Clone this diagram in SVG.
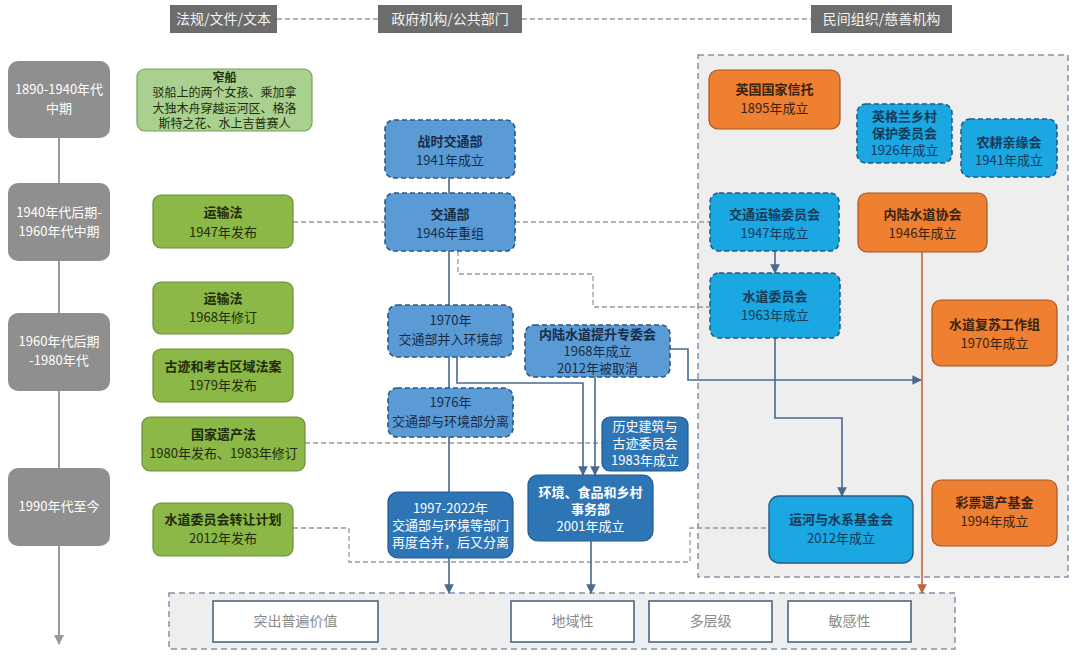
<svg xmlns="http://www.w3.org/2000/svg" width="1080" height="656" viewBox="0 0 1080 656">
<defs>
<style>
text{font-family:"Noto Sans CJK SC","Liberation Sans",sans-serif;font-size:13px;text-anchor:middle}
.b{font-weight:700}
.s{font-size:12px}
.hdr rect{fill:#6c6c6c}
.hdr text{fill:#f2f2f2;font-size:14px}
.tl rect{fill:#8f8f8f}
.tl text{fill:#ffffff}
.gr rect{fill:#8cb847;stroke:#6d8f36;stroke-width:1.2}
.gr text{fill:#1f2b0c}
.gl rect{fill:#a9d08e;stroke:#77a05a;stroke-width:1.2}
.gv rect{fill:#5b9bd5;stroke:#2d5782;stroke-width:1.6;stroke-dasharray:5 3}
.gv text{fill:#182c48}
.ds rect{fill:#2e75b6;stroke:#1f5a93;stroke-width:1.2}
.ds text{fill:#ffffff}
.lb rect{fill:#1aa7e2;stroke:#235a85;stroke-width:1.6;stroke-dasharray:5 3}
.lb text{fill:#163a58}
.ls rect{fill:#1aa7e2;stroke:#2a5a85;stroke-width:1.4}
.ls text{fill:#163a58}
.or rect{fill:#ef7f31;stroke:#a8551f;stroke-width:1.2}
.or text{fill:#3b2210}
.wb rect{fill:#ffffff;stroke:#4b6585;stroke-width:1.6}
.wb text{fill:#8a8a8a;font-size:14px}
.cont{fill:#eeeeee;stroke:#8193aa;stroke-width:1.5;stroke-dasharray:6 4}
.sl{fill:none;stroke:#4a6890;stroke-width:1.6}
.dl{fill:none;stroke:#999999;stroke-width:1.3;stroke-dasharray:5 3}
.ol{fill:none;stroke:#c0643a;stroke-width:1.6}
.tline{fill:none;stroke:#9a9a9a;stroke-width:2}
</style>
<marker id="ab" viewBox="0 0 10 10" refX="9" refY="5" markerWidth="6" markerHeight="6" orient="auto"><path d="M0,0 L10,5 L0,10 z" fill="#4a6890"/></marker>
<marker id="ao" viewBox="0 0 10 10" refX="9" refY="5" markerWidth="6" markerHeight="6" orient="auto"><path d="M0,0 L10,5 L0,10 z" fill="#c0643a"/></marker>
<marker id="ag" viewBox="0 0 10 10" refX="9" refY="5" markerWidth="5" markerHeight="5" orient="auto"><path d="M0,0 L10,5 L0,10 z" fill="#9a9a9a"/></marker>
</defs>
<rect width="1080" height="656" fill="#ffffff"/>

<!-- containers -->
<rect class="cont" x="698" y="55" width="370" height="522"/>
<rect class="cont" x="169" y="593" width="786" height="56"/>

<!-- connectors -->
<g id="connectors">
<line class="dl" x1="277" y1="19" x2="378" y2="19"/>
<line class="dl" x1="522" y1="19" x2="811" y2="19"/>
<line class="tline" x1="59" y1="138" x2="59" y2="183"/>
<line class="tline" x1="59" y1="261" x2="59" y2="313"/>
<line class="tline" x1="59" y1="391" x2="59" y2="468"/>
<line class="tline" x1="59" y1="546" x2="59" y2="644" marker-end="url(#ag)"/>
<line class="dl" x1="293" y1="222" x2="385" y2="222"/>
<line class="dl" x1="515" y1="222" x2="710" y2="222"/>
<polyline class="dl" points="458,251 458,274 593,274 593,307 710,307"/>
<line class="dl" x1="305" y1="443" x2="602" y2="443"/>
<polyline class="dl" points="293,528 349,528 349,562 690,562 690,528 769,528"/>
<line class="sl" x1="449" y1="178" x2="449" y2="193"/>
<line class="sl" x1="449" y1="251" x2="449" y2="305"/>
<line class="sl" x1="449" y1="357" x2="449" y2="388"/>
<line class="sl" x1="449" y1="437" x2="449" y2="492"/>
<line class="sl" x1="449" y1="558" x2="449" y2="593" marker-end="url(#ab)"/>
<polyline class="sl" points="457,357 457,383 583,383 583,475" marker-end="url(#ab)"/>
<line class="sl" x1="595" y1="377" x2="595" y2="475" marker-end="url(#ab)"/>
<line class="sl" x1="591" y1="541" x2="591" y2="593" marker-end="url(#ab)" stroke-width="1.2"/>
<polyline class="sl" points="670,349 688,349 688,380 921,380" marker-end="url(#ab)"/>
<line class="sl" x1="775" y1="251" x2="775" y2="273" marker-end="url(#ab)"/>
<polyline class="sl" points="775,338 775,418 842,418 842,496" marker-end="url(#ab)"/>
<line class="ol" x1="922" y1="252" x2="922" y2="593" marker-end="url(#ao)"/>
</g>

<!-- headers -->
<g id="h1" class="hdr"><rect x="170" y="5" width="107" height="28"/><text x="223.5" y="24">法规/文件/文本</text></g>
<g id="h2" class="hdr"><rect x="378" y="5" width="144" height="28"/><text x="450" y="24">政府机构/公共部门</text></g>
<g id="h3" class="hdr"><rect x="811" y="5" width="141" height="28"/><text x="881.5" y="24">民间组织/慈善机构</text></g>

<!-- timeline -->
<g id="t1" class="tl"><rect x="8" y="61" width="102" height="77" rx="10"/><text x="59" y="94">1890-1940年代</text><text x="59" y="113">中期</text></g>
<g id="t2" class="tl"><rect x="8" y="183" width="102" height="78" rx="10"/><text x="59" y="217">1940年代后期-</text><text x="59" y="236">1960年代中期</text></g>
<g id="t3" class="tl"><rect x="8" y="313" width="102" height="78" rx="10"/><text x="59" y="346">1960年代后期</text><text x="59" y="365">-1980年代</text></g>
<g id="t4" class="tl"><rect x="8" y="468" width="102" height="78" rx="10"/><text x="59" y="511">1990年代至今</text></g>

<!-- laws -->
<g id="g0" class="gr gl"><rect x="137" y="69" width="175" height="62" rx="8"/><text class="b s" x="224.5" y="81.5">窄船</text><text class="s" x="224.5" y="97">驳船上的两个女孩、乘加拿</text><text class="s" x="224.5" y="112.5">大独木舟穿越运河区、格洛</text><text class="s" x="224.5" y="128">斯特之花、水上吉普赛人</text></g>
<g id="g1" class="gr"><rect x="153" y="195" width="140" height="53" rx="8"/><text class="b" x="223" y="217">运输法</text><text x="223" y="237">1947年发布</text></g>
<g id="g2" class="gr"><rect x="153" y="282" width="140" height="52" rx="8"/><text class="b" x="223" y="303">运输法</text><text x="223" y="322">1968年修订</text></g>
<g id="g3" class="gr"><rect x="153" y="349" width="140" height="53" rx="8"/><text class="b" x="223" y="371">古迹和考古区域法案</text><text x="223" y="390">1979年发布</text></g>
<g id="g4" class="gr"><rect x="142" y="417" width="163" height="54" rx="8"/><text class="b" x="223.5" y="439">国家遗产法</text><text x="223.5" y="458">1980年发布、1983年修订</text></g>
<g id="g5" class="gr"><rect x="153" y="503" width="140" height="53" rx="8"/><text class="b" x="223" y="524">水道委员会转让计划</text><text x="223" y="543">2012年发布</text></g>

<!-- government -->
<g id="v1" class="gv"><rect x="385" y="120" width="130" height="58" rx="9"/><text class="b" x="450" y="146">战时交通部</text><text x="450" y="165">1941年成立</text></g>
<g id="v2" class="gv"><rect x="385" y="193" width="130" height="58" rx="9"/><text class="b" x="450" y="219">交通部</text><text x="450" y="238">1946年重组</text></g>
<g id="v3" class="gv"><rect x="388" y="305" width="125" height="52" rx="9"/><text x="450.5" y="325">1970年</text><text x="450.5" y="344">交通部并入环境部</text></g>
<g id="v4" class="gv"><rect x="388" y="388" width="125" height="49" rx="9"/><text x="450.5" y="407">1976年</text><text x="450.5" y="426">交通部与环境部分离</text></g>
<g id="v5" class="gv"><rect x="525" y="325" width="145" height="52" rx="9"/><text class="b" x="597.5" y="339">内陆水道提升专委会</text><text x="597.5" y="356">1968年成立</text><text x="597.5" y="373">2012年被取消</text></g>
<g id="v6" class="ds"><rect x="602" y="417" width="86" height="54" rx="8"/><text x="645" y="431">历史建筑与</text><text x="645" y="448">古迹委员会</text><text x="645" y="465">1983年成立</text></g>
<g id="v7" class="ds"><rect x="528" y="475" width="125" height="66" rx="10"/><text class="b" x="590.5" y="497">环境、食品和乡村</text><text class="b" x="590.5" y="514">事务部</text><text x="590.5" y="531">2001年成立</text></g>
<g id="v8" class="ds"><rect x="388" y="492" width="125" height="66" rx="10"/><text x="450.5" y="513">1997-2022年</text><text x="450.5" y="530">交通部与环境等部门</text><text x="450.5" y="547">再度合并，后又分离</text></g>

<!-- civil -->
<g id="c1" class="or"><rect x="709" y="70" width="131" height="59" rx="9"/><text class="b" x="774.5" y="94">英国国家信托</text><text x="774.5" y="113">1895年成立</text></g>
<g id="c2" class="lb"><rect x="857" y="104" width="95" height="59" rx="9"/><text class="b" x="904.5" y="121">英格兰乡村</text><text class="b" x="904.5" y="138">保护委员会</text><text x="904.5" y="155">1926年成立</text></g>
<g id="c3" class="lb"><rect x="961" y="119" width="96" height="58" rx="9"/><text class="b" x="1009" y="147">农耕亲缘会</text><text x="1009" y="165">1941年成立</text></g>
<g id="c4" class="lb"><rect x="710" y="193" width="129" height="58" rx="9"/><text class="b" x="774.5" y="219">交通运输委员会</text><text x="774.5" y="238">1947年成立</text></g>
<g id="c5" class="lb"><rect x="710" y="273" width="130" height="65" rx="9"/><text class="b" x="775" y="301">水道委员会</text><text x="775" y="320">1963年成立</text></g>
<g id="c6" class="or"><rect x="858" y="193" width="129" height="59" rx="9"/><text class="b" x="922.5" y="219">内陆水道协会</text><text x="922.5" y="238">1946年成立</text></g>
<g id="c7" class="or"><rect x="932" y="300" width="125" height="66" rx="9"/><text class="b" x="994.5" y="329">水道复苏工作组</text><text x="994.5" y="348">1970年成立</text></g>
<g id="c8" class="ls"><rect x="769" y="496" width="144" height="67" rx="10"/><text class="b" x="841" y="524">运河与水系基金会</text><text x="841" y="543">2012年成立</text></g>
<g id="c9" class="or"><rect x="932" y="480" width="125" height="66" rx="9"/><text class="b" x="994.5" y="507">彩票遗产基金</text><text x="994.5" y="526">1994年成立</text></g>

<!-- bottom -->
<g id="b1" class="wb"><rect x="213" y="601" width="165" height="41"/><text x="295.5" y="626">突出普遍价值</text></g>
<g id="b2" class="wb"><rect x="511" y="601" width="123" height="41"/><text x="572.5" y="626">地域性</text></g>
<g id="b3" class="wb"><rect x="649" y="601" width="123" height="41"/><text x="710.5" y="626">多层级</text></g>
<g id="b4" class="wb"><rect x="788" y="601" width="123" height="41"/><text x="849.5" y="626">敏感性</text></g>
</svg>
